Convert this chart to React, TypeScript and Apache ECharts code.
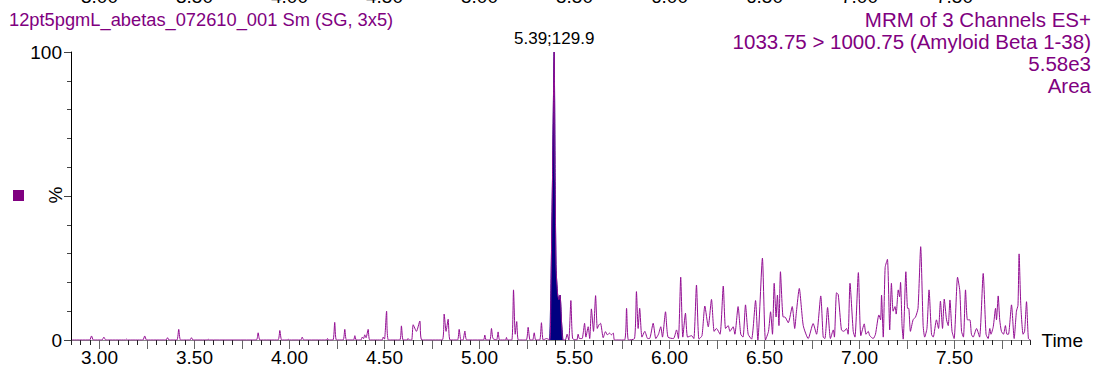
import React, { useEffect, useRef } from "react";
import * as echarts from "echarts";

// Retention time (min) and relative intensity (%) of the trace
const TIMES: number[] = [
  2.855, 2.948, 2.958, 2.968, 3.013, 3.023, 3.033, 3.137, 3.142, 3.147, 3.228, 3.238, 3.248, 3.350, 3.358, 3.366,
  3.407, 3.417, 3.427, 3.476, 3.484, 3.492, 3.567, 3.572, 3.577, 3.825, 3.835, 3.845, 3.939, 3.949, 3.959, 3.988,
  3.993, 3.998, 4.059, 4.067, 4.075, 4.195, 4.200, 4.205, 4.229, 4.238, 4.247, 4.282, 4.291, 4.300, 4.337, 4.344,
  4.351, 4.376, 4.383, 4.390, 4.396, 4.403, 4.414, 4.423, 4.487, 4.493, 4.500, 4.511, 4.521, 4.580, 4.589, 4.598,
  4.619, 4.624, 4.631, 4.643, 4.651, 4.668, 4.686, 4.697, 4.804, 4.814, 4.824, 4.835, 4.845, 4.884, 4.893, 4.902,
  4.913, 4.923, 4.933, 5.021, 5.028, 5.035, 5.055, 5.063, 5.071, 5.090, 5.098, 5.106, 5.137, 5.142, 5.147, 5.170,
  5.179, 5.188, 5.196, 5.205, 5.246, 5.256, 5.266, 5.280, 5.288, 5.296, 5.317, 5.326, 5.335, 5.353, 5.370, 5.376,
  5.384, 5.393, 5.398, 5.403, 5.411, 5.418, 5.424, 5.432, 5.439, 5.452, 5.461, 5.470, 5.481, 5.490, 5.512, 5.519,
  5.526, 5.540, 5.546, 5.553, 5.560, 5.572, 5.580, 5.589, 5.600, 5.611, 5.620, 5.628, 5.637, 5.651, 5.663, 5.673,
  5.684, 5.694, 5.704, 5.711, 5.763, 5.774, 5.784, 5.816, 5.826, 5.835, 5.843, 5.855, 5.870, 5.885, 5.895, 5.914,
  5.928, 5.942, 5.954, 5.963, 5.979, 5.992, 6.021, 6.037, 6.047, 6.059, 6.070, 6.084, 6.095, 6.116, 6.128, 6.142,
  6.155, 6.171, 6.186, 6.204, 6.221, 6.235, 6.247, 6.266, 6.283, 6.295, 6.309, 6.318, 6.335, 6.344, 6.361, 6.375,
  6.387, 6.400, 6.414, 6.432, 6.453, 6.465, 6.489, 6.505, 6.521, 6.532, 6.542, 6.551, 6.561, 6.568, 6.576, 6.584,
  6.598, 6.607, 6.625, 6.646, 6.659, 6.668, 6.683, 6.704, 6.730, 6.756, 6.774, 6.796, 6.809, 6.818, 6.832, 6.847,
  6.862, 6.868, 6.879, 6.888, 6.905, 6.918, 6.932, 6.940, 6.950, 6.967, 6.976, 6.994, 7.007, 7.025, 7.034, 7.046,
  7.054, 7.072, 7.084, 7.102, 7.111, 7.116, 7.125, 7.135, 7.147, 7.159, 7.168, 7.177, 7.187, 7.193, 7.204, 7.211,
  7.216, 7.224, 7.230, 7.244, 7.253, 7.259, 7.268, 7.282, 7.295, 7.308, 7.322, 7.335, 7.343, 7.355, 7.366, 7.379,
  7.388, 7.405, 7.416, 7.426, 7.437, 7.446, 7.458, 7.467, 7.476, 7.487, 7.498, 7.516, 7.528, 7.537, 7.547, 7.558,
  7.568, 7.581, 7.589, 7.598, 7.616, 7.632, 7.651, 7.666, 7.677, 7.686, 7.692, 7.704, 7.716, 7.721, 7.730, 7.738,
  7.747, 7.758, 7.768, 7.776, 7.784, 7.800, 7.814, 7.826, 7.834, 7.840, 7.849, 7.861, 7.869, 7.879, 7.889, 7.900,
];
const INTENSITY: number[] = [
  0, 0, 1.4, 0, 0, 1.0, 0, 0, 0.3, 0, 0, 1.4, 0, 0, 0.8, 0,
  0, 3.7, 0, 0, 0.8, 0, 0, 0.3, 0, 0, 2.5, 0, 0, 3.3, 0, 0,
  0.3, 0, 0, 1.0, 0, 0, 0.5, 0, 0, 6.1, 0, 0, 3.7, 0, 0, 1.5,
  0, 0, 1.0, 0.5, 1.8, 0.8, 3.7, 0, 0, 1.0, 0.3, 10, 0, 0, 4.9, 0,
  0, 0.5, 0, 0, 5.3, 3.0, 6.6, 0, 0, 9.0, 3, 7.2, 0, 0, 3.7, 0,
  0, 3.1, 0, 0, 1.7, 0, 0, 4.0, 0.5, 0, 2.8, 0, 0, 0.9, 0, 0,
  17.4, 2, 6.4, 0, 0, 4.4, 0, 0, 2.5, 0, 0, 6.0, 0, 0.5, 0, 18,
  55, 100, 55, 25, 16, 14, 15.6, 6, 0, 0, 2, 0, 13.7, 0.5, 0, 2,
  0.5, 0.5, 2.5, 5.8, 1, 4.6, 0.5, 10.8, 3, 15.4, 4, 5.2, 5.8, 0.8, 2.9, 1.8,
  2.4, 1.8, 2.4, 0, 0, 11, 0, 0.5, 16.8, 4, 11, 1, 3, 0.5, 0.5, 5.8,
  0.5, 2, 4.6, 1, 9.8, 1, 0.5, 3.5, 0.5, 21.8, 1, 9.3, 1, 1.5, 0.5, 19.1,
  0.3, 1.5, 11.8, 4.6, 14.1, 3, 4, 2, 18.75, 4, 5, 3, 4.6, 2, 11.6, 2,
  1, 12.2, 2, 0.3, 13.7, 0, 28.4, 0, 3, 9.8, 2, 19.7, 8, 15.6, 5, 23.7,
  8, 8, 6, 11.6, 4, 9.8, 17.9, 5, 0.5, 5.7, 2, 15.3, 1, 0.5, 11.3, 0.5,
  3.5, 1, 16.4, 15.8, 3.5, 3, 4, 2, 19.7, 3, 1, 23.4, 1.5, 5.6, 2, 3,
  1.5, 0.5, 2, 8.7, 7, 15.6, 1, 25.2, 28, 3.5, 19.7, 10, 11.6, 9, 17.4, 15,
  20, 5, 0.3, 23.7, 11, 11, 3, 7, 8, 11, 32.4, 5, 1, 4, 17.4, 2,
  1, 7, 4, 13.5, 4, 14.2, 7, 5, 13.9, 3, 0.5, 21.8, 17, 3, 1, 17.4,
  7, 7, 2, 1, 4, 1, 23.1, 2, 0.5, 4, 2, 4.6, 11, 7, 15.3, 7,
  3, 2, 5, 2, 2, 12.2, 0.5, 10, 12, 29.9, 12, 2, 3, 13.3, 0.5, 0,
];

// Integrated peak (filled area)
const PEAK_TIMES: number[] = [5.370, 5.376, 5.384, 5.393, 5.398, 5.403, 5.411, 5.418, 5.424, 5.432, 5.439];
const PEAK_INTENSITY: number[] = [0, 18, 55, 100, 55, 25, 16, 14, 15.6, 6, 0];
const PEAK_APEX: [number, number] = [5.393, 100];
const PEAK_LABEL = "5.39;129.9";

// Tick labels of the panel above, cut off by the top edge
const TOP_TICK_LABELS: number[] = [3.0, 3.5, 4.0, 4.5, 5.0, 5.5, 6.0, 6.5, 7.0, 7.5];

const TITLE_LEFT = "12pt5pgmL_abetas_072610_001 Sm (SG, 3x5)";
const TITLE_RIGHT: string[] = [
  "MRM of 3 Channels ES+",
  "1033.75 > 1000.75 (Amyloid Beta 1-38)",
  "5.58e3",
  "Area",
];

const X_MIN = 2.85;
const X_MAX = 7.9;
const PURPLE = "#930F93";
const TEXT_PURPLE = "#800080";
const NAVY = "#000080";
const FONT = "'Liberation Sans', Arial, sans-serif";

export default function App() {
  const ref = useRef<HTMLDivElement>(null);

  useEffect(() => {
    if (!ref.current) return;
    const chart = echarts.init(ref.current, undefined, { renderer: "svg" });
    const trace = TIMES.map((t, i) => [t, INTENSITY[i]]);
    const peak = PEAK_TIMES.map((t, i) => [t, PEAK_INTENSITY[i]]);
    const halfLabel = (v: number) =>
      Math.abs(v * 2 - Math.round(v * 2)) < 1e-6 ? v.toFixed(2) : "";

    const pxPerUnit = (1095 - 71 - 64.5) / (X_MAX - X_MIN);
    const g2Left = 71 + (3.0 - X_MIN) * pxPerUnit;
    const g2Right = 64.5 + (X_MAX - 7.75) * pxPerUnit;

    const staticGraphics: any[] = [
      {
        id: "titleLeft",
        type: "text",
        left: 9,
        top: 10,
        style: { text: TITLE_LEFT, fill: TEXT_PURPLE, font: `18.3px ${FONT}` },
      },
      ...TITLE_RIGHT.map((line, i) => ({
        id: "titleRight" + i,
        type: "text",
        x: 1091,
        y: 19 + i * 22.2,
        style: {
          text: line,
          fill: TEXT_PURPLE,
          font: `20.5px ${FONT}`,
          align: "right",
          verticalAlign: "middle",
        },
      })),
      {
        id: "pct",
        type: "text",
        x: 55,
        y: 195,
        rotation: Math.PI / 2,
        style: { text: "%", fill: "#000", font: `19px ${FONT}`, align: "center", verticalAlign: "middle" },
      },
      {
        id: "legendSquare",
        type: "rect",
        shape: { x: 13, y: 190, width: 11, height: 11 },
        style: { fill: TEXT_PURPLE },
      },
    ];

    chart.setOption({
      animation: false,
      backgroundColor: "#ffffff",
      textStyle: { fontFamily: FONT },
      grid: [
        { left: 71, right: 64.5, top: 52, bottom: 28, containLabel: false },
        { left: g2Left, right: g2Right, top: 52, bottom: 28, containLabel: false },
      ],
      xAxis: [
        {
          type: "value",
          gridIndex: 0,
          min: X_MIN,
          max: X_MAX,
          interval: 0.05,
          axisLine: { show: true, lineStyle: { color: "#888888", width: 1 } },
          axisTick: { show: true, length: 5, lineStyle: { color: "#222222" } },
          axisLabel: { show: false },
          splitLine: { show: false },
          name: "Time",
          nameLocation: "end",
          nameGap: 11,
          nameTextStyle: { fontSize: 19, color: "#000", fontFamily: FONT, verticalAlign: "middle" },
        },
        {
          type: "value",
          gridIndex: 1,
          min: 3.0,
          max: 7.75,
          interval: 0.25,
          axisLine: { show: false },
          axisTick: { show: true, length: 9, lineStyle: { color: "#666666" } },
          axisLabel: { show: true, fontSize: 19, color: "#000", margin: 8, fontFamily: FONT, formatter: halfLabel },
          splitLine: { show: false },
        },
      ],
      yAxis: [
        {
          type: "value",
          gridIndex: 0,
          position: "left",
          min: 0,
          max: 100,
          interval: 10,
          axisLine: { show: true, lineStyle: { color: "#000", width: 1 } },
          axisTick: { show: true, length: 4, lineStyle: { color: "#444" } },
          axisLabel: { show: false },
          splitLine: { show: false },
        },
        {
          type: "value",
          gridIndex: 0,
          position: "left",
          offset: 0,
          min: 0,
          max: 100,
          interval: 50,
          axisLine: { show: false },
          axisTick: { show: true, length: 7, lineStyle: { color: "#444" } },
          axisLabel: {
            show: true,
            fontSize: 19,
            color: "#000",
            margin: 9,
            fontFamily: FONT,
            formatter: (v: number) => (v === 50 ? "" : String(v)),
          },
          splitLine: { show: false },
        },
        { type: "value", gridIndex: 1, min: 0, max: 100, show: false },
      ],
      series: [
        {
          type: "line",
          xAxisIndex: 0,
          yAxisIndex: 0,
          data: peak,
          symbol: "none",
          smooth: 0.2,
          lineStyle: { color: NAVY, width: 1 },
          areaStyle: { color: NAVY, opacity: 1 },
          markPoint: {
            symbol: "rect",
            symbolSize: 1,
            itemStyle: { color: "rgba(0,0,0,0)" },
            label: {
              show: true,
              position: "top",
              distance: 5,
              color: "#000",
              fontSize: 17,
              fontFamily: FONT,
              formatter: PEAK_LABEL,
            },
            data: [{ coord: PEAK_APEX }],
          },
          z: 2,
        },
        {
          type: "line",
          xAxisIndex: 0,
          yAxisIndex: 0,
          data: trace,
          symbol: "none",
          smooth: 0.2,
          lineStyle: { color: PURPLE, width: 1 },
          z: 3,
        },
      ],
      graphic: staticGraphics,
    });

    // cut-off tick labels of the panel above, placed through the x scale
    const topLabels = TOP_TICK_LABELS.map((v, i) => {
      const px = chart.convertToPixel({ xAxisIndex: 0 }, v) as number;
      return {
        id: "topLabel" + i,
        type: "text",
        x: px,
        y: 6,
        style: { text: v.toFixed(2), fill: "#000", font: `19px ${FONT}`, align: "center", verticalAlign: "bottom" },
      };
    });
    chart.setOption({ graphic: [...staticGraphics, ...topLabels] });

    return () => chart.dispose();
  }, []);

  return (
    <div
      ref={ref}
      style={{ position: "absolute", left: 0, top: 0, width: 1095, height: 368, background: "#fff" }}
    />
  );
}
